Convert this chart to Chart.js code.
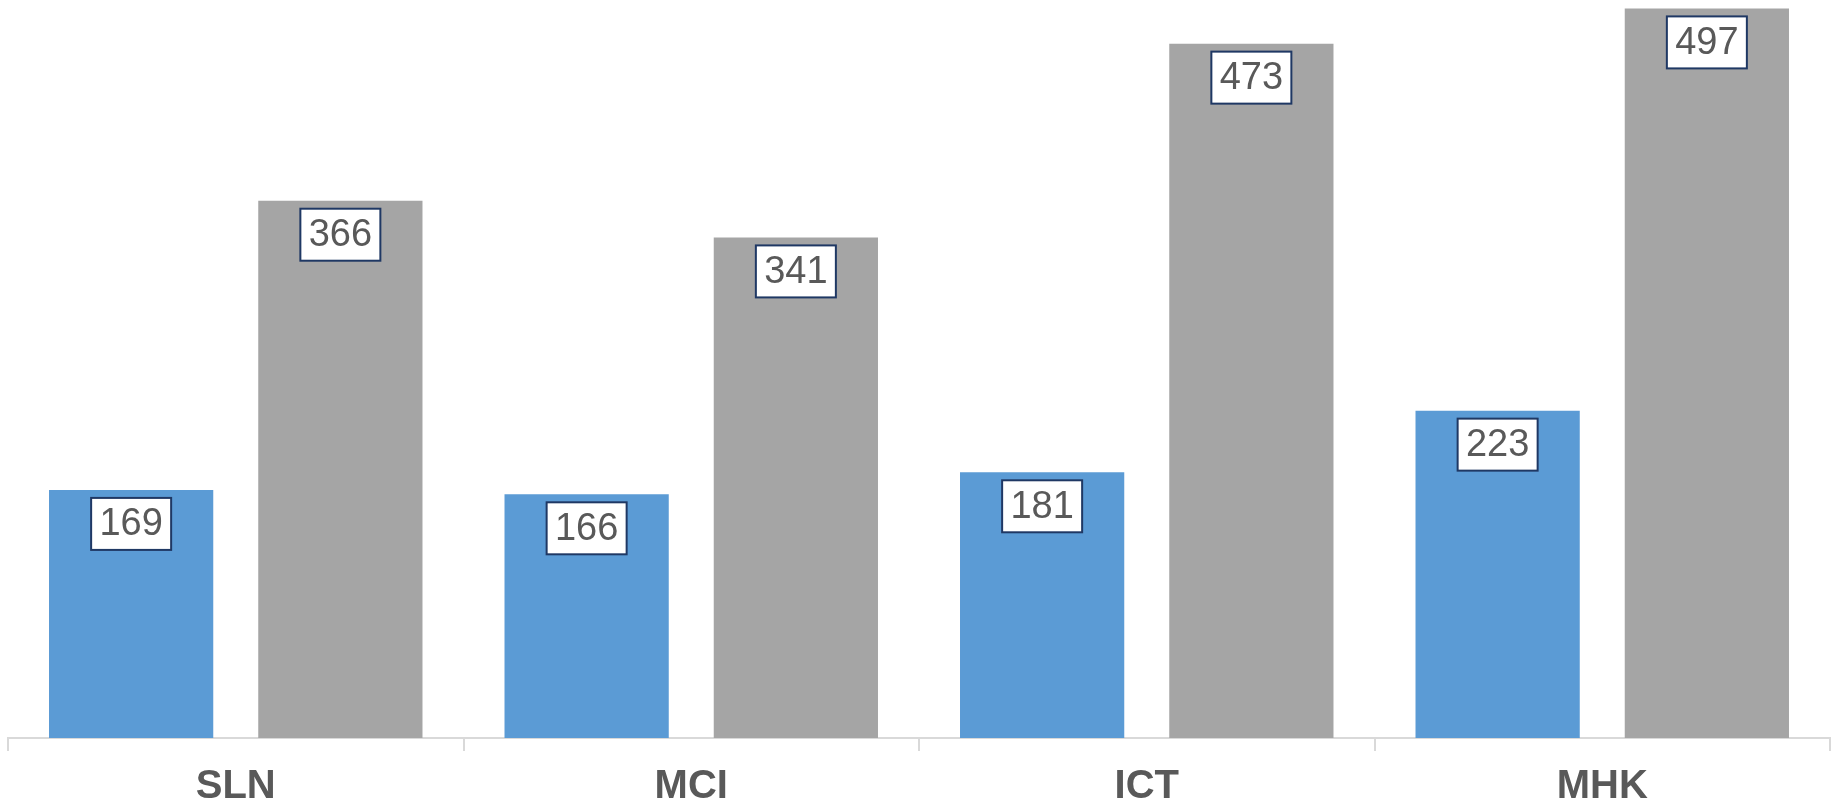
<!DOCTYPE html>
<html>
<head>
<meta charset="utf-8">
<script src="https://cdn.jsdelivr.net/npm/chart.js@4"></script>
<style>
html,body{margin:0;padding:0;background:#fff;}
#wrap{width:1837px;height:807px;position:relative;}
</style>
</head>
<body>
<div id="wrap"><canvas id="c" width="1837" height="807"></canvas></div>
<script>
const categories = ["SLN", "MCI", "ICT", "MHK"];
const seriesA = [169, 166, 181, 223];
const seriesB = [366, 341, 473, 497];

const labelBoxes = {
  id: 'labelBoxes',
  afterDatasetsDraw(chart) {
    const ctx = chart.ctx;
    ctx.save();
    ctx.font = '38px "Liberation Sans", Arial, sans-serif';
    ctx.textAlign = 'center';
    ctx.textBaseline = 'middle';
    chart.data.datasets.forEach((ds, di) => {
      const meta = chart.getDatasetMeta(di);
      meta.data.forEach((bar, i) => {
        const w = 80, h = 52;
        const cx = bar.x;
        const top = bar.y + 8;
        ctx.fillStyle = '#ffffff';
        ctx.fillRect(cx - w / 2, top, w, h);
        ctx.strokeStyle = '#1f3864';
        ctx.lineWidth = 2;
        ctx.strokeRect(cx - w / 2, top, w, h);
        ctx.fillStyle = '#595959';
        ctx.fillText(String(ds.data[i]), cx, top + h / 2 + 1);
      });
    });
    ctx.restore();
  }
};

new Chart(document.getElementById('c'), {
  type: 'bar',
  data: {
    labels: categories,
    datasets: [
      { label: 'A', data: seriesA, backgroundColor: '#5b9bd5', categoryPercentage: 0.9187, barPercentage: 0.785 },
      { label: 'B', data: seriesB, backgroundColor: '#a5a5a5', categoryPercentage: 0.9187, barPercentage: 0.785 }
    ]
  },
  options: {
    responsive: false,
    animation: false,
    layout: { padding: { left: 8, right: 7, top: 4, bottom: -16 } },
    plugins: { legend: { display: false }, tooltip: { enabled: false } },
    scales: {
      x: {
        grid: { display: true, drawOnChartArea: false, drawTicks: true, tickLength: 13, color: '#d9d9d9', lineWidth: 2, offset: true },
        border: { display: true, color: '#d9d9d9', width: 2 },
        ticks: { color: '#595959', padding: 20, font: { family: '"Liberation Sans", Arial, sans-serif', size: 40, weight: 'bold', lineHeight: 0.8 } }
      },
      y: {
        display: false,
        min: 0,
        max: 500,
        grid: { display: false }
      }
    }
  },
  plugins: [labelBoxes]
});
</script>
</body>
</html>
